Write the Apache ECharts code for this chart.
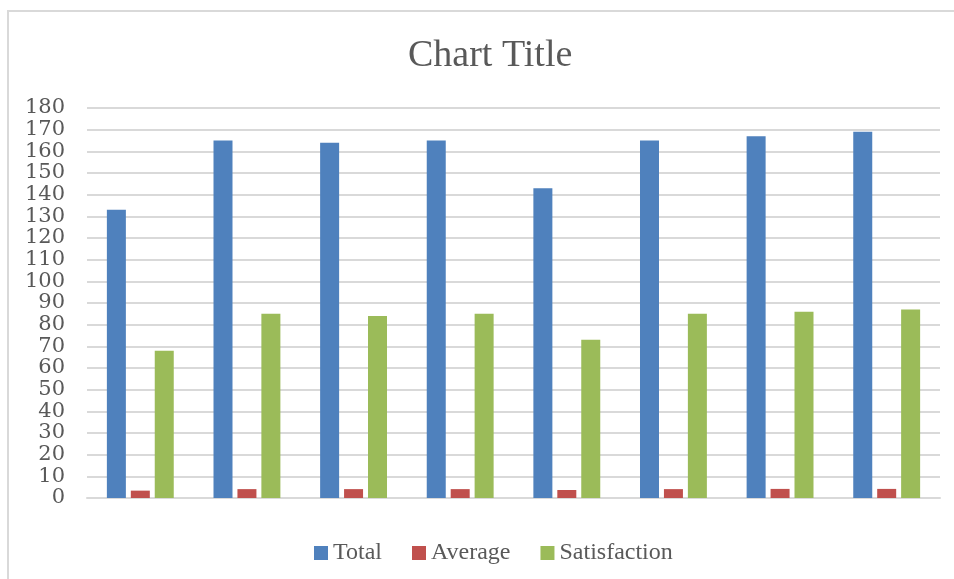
<!DOCTYPE html>
<html>
<head>
<meta charset="utf-8">
<script src="https://cdn.jsdelivr.net/npm/echarts@6/dist/echarts.min.js"></script>
<style>
html,body{margin:0;padding:0;background:#fff;}
#c{width:954px;height:579px;}
</style>
</head>
<body>
<div id="c"></div>
<script>
var categories = ['1','2','3','4','5','6','7','8'];
var totalValues = [133, 165, 164, 165, 143, 165, 167, 169];
var averageValues = [3.4, 4.1, 4.1, 4.1, 3.7, 4.1, 4.2, 4.2];
var satisfactionValues = [68, 85, 84, 85, 73, 85, 86, 87];
var seriesNames = ['Total', 'Average', 'Satisfaction'];
var colors = ['#4f81bd', '#c0504d', '#9bbb59'];

var font = '"Liberation Serif", serif';
var chart = echarts.init(document.getElementById('c'));
chart.setOption({
  animation: false,
  backgroundColor: '#fff',
  graphic: [{
    type: 'rect', silent: true,
    shape: {x: 8, y: 11, width: 1000, height: 1000},
    style: {fill: 'none', stroke: '#d9d9d9', lineWidth: 2}
  }],
  title: {
    text: 'Chart Title',
    left: 403, top: 32,
    textStyle: {fontFamily: font, fontSize: 38, fontWeight: 'normal', color: '#595959'}
  },
  legend: {
    data: seriesNames,
    left: 309, top: 536,
    icon: 'rect', itemWidth: 14, itemHeight: 14, itemGap: 30,
    textStyle: {fontFamily: font, fontSize: 24, color: '#595959'}
  },
  grid: {left: 87, right: 14, top: 108, bottom: 81, containLabel: false},
  xAxis: {
    type: 'category', data: categories,
    axisLine: {show: true, lineStyle: {color: '#d9d9d9', width: 2}},
    axisTick: {show: false},
    axisLabel: {show: false}
  },
  yAxis: {
    type: 'value', min: 0, max: 180, interval: 10,
    axisLine: {show: false}, axisTick: {show: false},
    axisLabel: {
      fontFamily: '"DejaVu Serif", serif', fontSize: 21, lineHeight: 16,
      color: '#595959', margin: 22,
      showMinLabel: true, showMaxLabel: true, hideOverlap: false,
      minMargin: 0, textMargin: 0
    },
    splitLine: {lineStyle: {color: '#d9d9d9', width: 2}}
  },
  series: [
    {name: seriesNames[0], type: 'bar', data: totalValues, barWidth: 19, barGap: '26%', itemStyle: {color: colors[0]}},
    {name: seriesNames[1], type: 'bar', data: averageValues, barWidth: 19, barGap: '26%', itemStyle: {color: colors[1]}},
    {name: seriesNames[2], type: 'bar', data: satisfactionValues, barWidth: 19, barGap: '26%', itemStyle: {color: colors[2]}}
  ]
});
</script>
</body>
</html>
